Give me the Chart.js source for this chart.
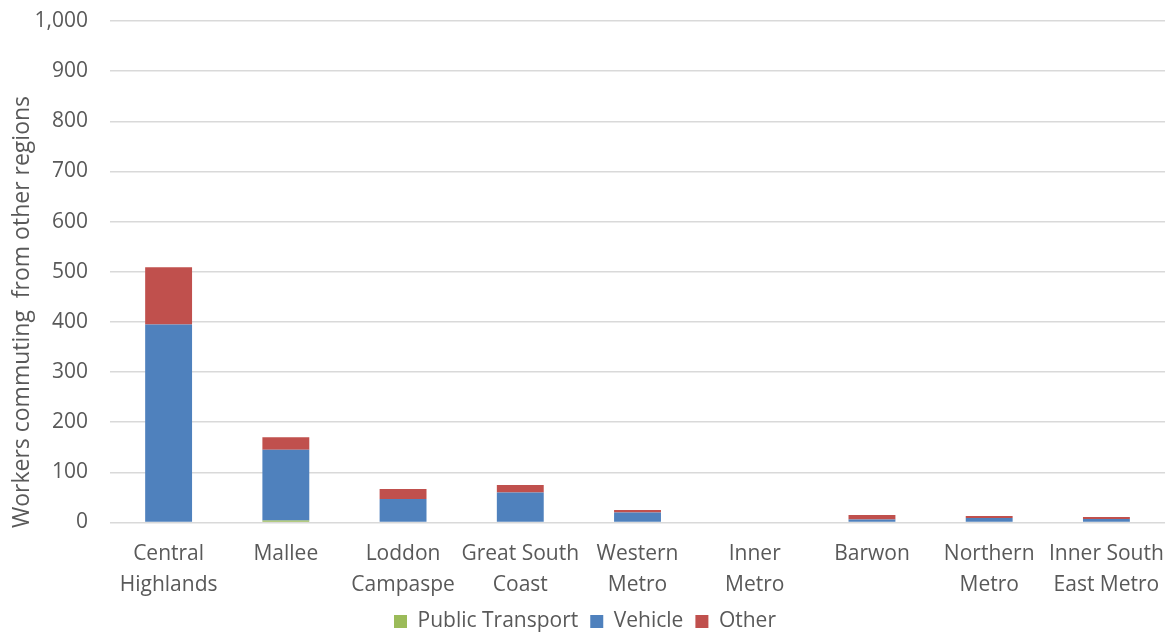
<!DOCTYPE html>
<html>
<head>
<meta charset="utf-8">
<script src="https://cdn.jsdelivr.net/npm/chart.js@4/dist/chart.umd.min.js"></script>
<style>
  html, body { margin: 0; padding: 0; background: #fff; }
  #wrap { width: 1173px; height: 632px; position: relative; }
</style>
</head>
<body>
<div id="wrap"><canvas id="commuteChart"></canvas></div>
<script>
// Regions (two-line labels as shown under the axis)
const regions = [
    ['Central', 'Highlands'],
    ['Mallee'],
    ['Loddon', 'Campaspe'],
    ['Great South', 'Coast'],
    ['Western', 'Metro'],
    ['Inner', 'Metro'],
    ['Barwon'],
    ['Northern', 'Metro'],
    ['Inner South', 'East Metro']
];

// Workers commuting in, by mode
const publicTransport = [0, 4, 0, 0, 0, 0, 0, 0, 0];
const vehicle = [395, 141, 47, 60, 20, 0, 6, 9, 7];
const other = [114, 25, 20, 15, 5, 0, 9, 4, 4];

const yTicks = { min: 0, max: 1000, step: 100 };
const yTitle = 'Workers commuting  from other regions';

const textColor = '#595959';
const fontFamily = '"Open Sans", "Liberation Sans", sans-serif';

// Excel puts the axis title a bit lower than the plot centre, so draw it by hand
const yTitlePlugin = {
    id: 'yTitle',
    afterDraw(chart) {
        const c = chart.ctx;
        c.save();
        c.translate(22, 312);
        c.rotate(-Math.PI / 2);
        c.fillStyle = textColor;
        c.font = '23px ' + fontFamily;
        c.textAlign = 'center';
        c.textBaseline = 'middle';
        c.fillText(yTitle, 0, 0);
        c.restore();
    }
};

const ctx = document.getElementById('commuteChart').getContext('2d');

new Chart(ctx, {
    type: 'bar',
    data: {
        labels: regions,
        datasets: [
            { label: 'Public Transport', data: publicTransport, backgroundColor: '#9BBB59' },
            { label: 'Vehicle', data: vehicle, backgroundColor: '#4F81BD' },
            { label: 'Other', data: other, backgroundColor: '#C0504D' }
        ]
    },
    plugins: [yTitlePlugin],
    options: {
        responsive: true,
        maintainAspectRatio: false,
        animation: false,
        layout: { padding: { left: 0, right: 3, top: 21, bottom: -10 } },
        datasets: {
            bar: { categoryPercentage: 1, barPercentage: 0.4 }
        },
        plugins: {
            legend: {
                position: 'bottom',
                labels: {
                    boxWidth: 13,
                    boxHeight: 13,
                    padding: 12,
                    color: textColor,
                    font: { family: fontFamily, size: 21 }
                }
            },
            tooltip: { enabled: false }
        },
        scales: {
            x: {
                stacked: true,
                grid: { display: false },
                border: { display: false },
                ticks: {
                    color: textColor,
                    font: { family: fontFamily, size: 21, lineHeight: 1.43 },
                    maxRotation: 0,
                    autoSkip: false,
                    padding: 9
                },
                afterFit: (scale) => { scale.height = 76.5; }
            },
            y: {
                stacked: true,
                min: yTicks.min,
                max: yTicks.max,
                // invisible tick marks give the gap between labels and plot
                grid: { color: '#d9d9d9', lineWidth: 1.5, tickLength: 22, tickColor: 'rgba(0,0,0,0)' },
                border: { display: false },
                ticks: {
                    stepSize: yTicks.step,
                    color: textColor,
                    padding: 0,
                    font: { family: fontFamily, size: 21 },
                    callback: (v) => v.toLocaleString('en-US')
                },
                afterFit: (scale) => { scale.width = 110; }
            }
        }
    }
});
</script>
</body>
</html>
